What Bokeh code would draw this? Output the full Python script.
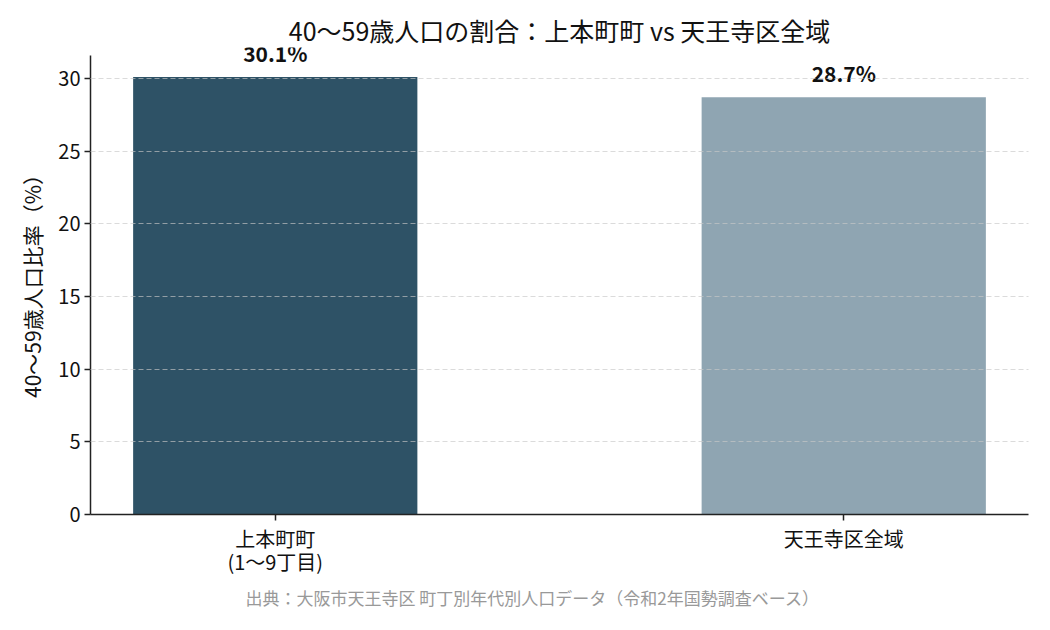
from bokeh.plotting import figure
from bokeh.models import ColumnDataSource, FixedTicker, Range1d, Title
from bokeh.core.properties import value
from bokeh.embed import file_html
from bokeh.resources import INLINE

categories = ["上本町町\n(1〜9丁目)", "天王寺区全域"]
shares = [30.1, 28.7]
bar_labels = ["30.1%", "28.7%"]
colors = ["#2e5266", "#8fa5b2"]
y_ticks = [0, 5, 10, 15, 20, 25, 30]
y_axis_top = 31.6

FONT = "Noto Sans CJK JP"
xs = list(range(len(categories)))

src = ColumnDataSource(dict(x=xs, top=shares, label=bar_labels, color=colors))

p = figure(width=1034, height=614, output_backend="svg", toolbar_location=None,
           x_range=Range1d(-0.325, 1.325), y_range=Range1d(0, 32.13),
           min_border_left=90, min_border_right=6, min_border_top=47, min_border_bottom=100)

p.title.text = "40〜59歳人口の割合：上本町町 vs 天王寺区全域"
p.title.align = "center"
p.title.text_font = FONT
p.title.text_font_size = "25px"
p.title.text_font_style = "normal"
p.title.text_color = "#111111"
p.title.standoff = 0

p.vbar(x="x", top="top", width=0.5, bottom=0, color="color", source=src, line_color=None)
p.text(x="x", y="top", text="label", source=src, y_offset=-9,
       text_align="center", text_baseline="bottom",
       text_font=value(FONT), text_font_size="21px", text_font_style="bold",
       text_color="#111111")

foot = Title(text="出典：大阪市天王寺区 町丁別年代別人口データ（令和2年国勢調査ベース）",
             align="left", offset=155, text_font=FONT, text_font_size="17px",
             text_font_style="normal", text_color="#999999", standoff=9)
p.add_layout(foot, "below")

p.xaxis.ticker = FixedTicker(ticks=xs)
p.xaxis.major_label_overrides = {i: c for i, c in enumerate(categories)}
p.xaxis.major_label_standoff = 3
p.xaxis.major_label_text_line_height = 0.8
p.yaxis.ticker = FixedTicker(ticks=y_ticks)
p.yaxis.bounds = (0, y_axis_top)
for ax in (p.xaxis, p.yaxis):
    ax.major_label_text_font = FONT
    ax.major_label_text_font_size = "20px"
    ax.major_label_text_color = "#111111"
    ax.axis_line_color = "#222222"
    ax.axis_line_width = 1.5
    ax.major_tick_line_color = "#222222"
    ax.major_tick_line_width = 1.5
    ax.major_tick_out = 6
    ax.major_tick_in = 0
    ax.minor_tick_line_color = None
p.yaxis.major_label_standoff = 4
p.yaxis.axis_label = "40〜59歳人口比率（%）"
p.yaxis.axis_label_text_font = FONT
p.yaxis.axis_label_text_font_size = "21px"
p.yaxis.axis_label_text_font_style = "normal"
p.yaxis.axis_label_text_color = "#111111"
p.yaxis.axis_label_standoff = 8

p.xgrid.grid_line_color = None
p.ygrid.grid_line_color = "#c8c8c8"
p.ygrid.grid_line_alpha = 0.65
p.ygrid.grid_line_dash = "5 3"
p.ygrid.level = "overlay"
p.outline_line_color = None

open("out.html", "w").write(file_html(p, INLINE))
